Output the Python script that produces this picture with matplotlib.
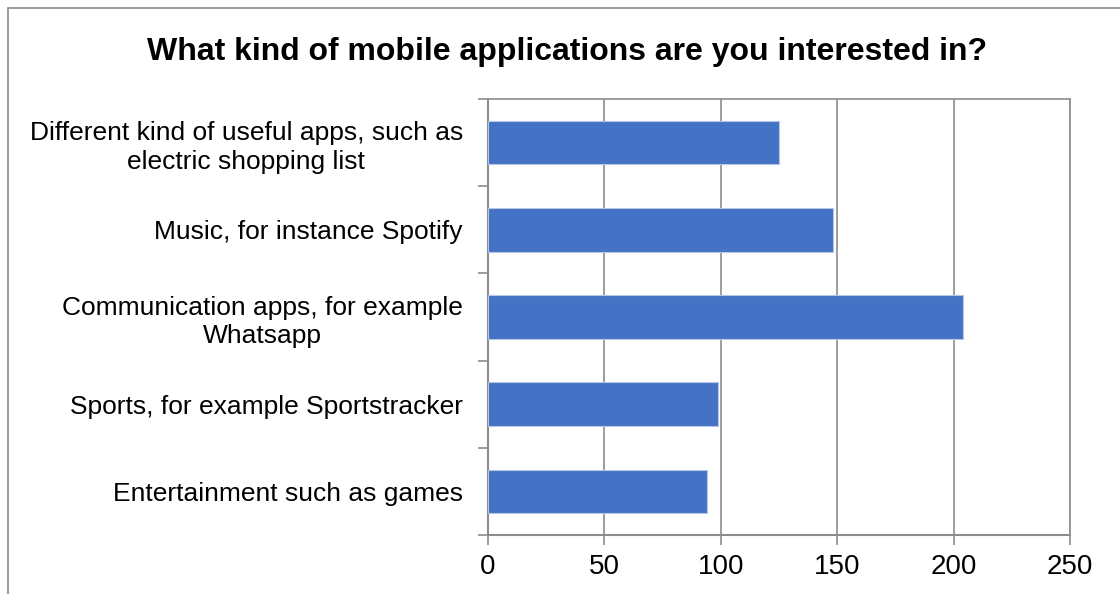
import matplotlib
matplotlib.use("Agg")
import matplotlib.pyplot as plt
from matplotlib.patches import Rectangle

categories = [
    "Entertainment such as games",
    "Sports, for example Sportstracker",
    "Communication apps, for example\nWhatsapp",
    "Music, for instance Spotify",
    "Different kind of useful apps, such as\nelectric shopping list",
]
values = [94, 99, 204, 148, 125]
xticks = [0, 50, 100, 150, 200, 250]
title = "What kind of mobile applications are you interested in?"

W, H = 1120, 594
fig = plt.figure(figsize=(W / 100, H / 100), dpi=100)
plt.rcParams['font.family'] = ['Liberation Sans', 'DejaVu Sans']

x0, x1, y0, y1 = 488, 1070, 99, 535
ax = fig.add_axes([x0 / W, 1 - y1 / H, (x1 - x0) / W, (y1 - y0) / H])

pos = list(range(len(categories)))
ax.barh(pos, values, height=0.5, color="#4472C4", edgecolor="#B4C7E7", linewidth=0.8, zorder=3)
ax.set_xlim(0, 250)
ax.set_ylim(-0.5, len(categories) - 0.5)
ax.set_xticks(xticks)
ax.set_xticklabels([str(t) for t in xticks], fontsize=20)
ax.grid(axis="x", color="#8C8C8C", linewidth=1.2, zorder=0)

ax.set_yticks([p - 0.5 for p in range(len(categories) + 1)])
ax.set_yticklabels([])
ax.set_yticks(pos, minor=True)
ax.set_yticklabels(categories, minor=True, fontsize=19, ma="center", linespacing=1.25)
ax.tick_params(axis="y", which="minor", length=0, pad=18)
ax.tick_params(axis="y", which="major", length=7, color="#8C8C8C", width=1.2)
ax.tick_params(axis="x", length=7, color="#8C8C8C", width=1.2, pad=7)

for s in ax.spines.values():
    s.set_color("#8C8C8C")
    s.set_linewidth(1.2)
ax.spines["left"].set_linewidth(1.5)
ax.spines["bottom"].set_linewidth(1.5)

fig.text(567 / W, 1 - 52 / H, title, ha="center", va="center", fontsize=23, fontweight="bold")

fig.patches.append(Rectangle((8 / W, -0.1), 1.2, 1 - 8 / H + 0.1, transform=fig.transFigure,
                             fill=False, edgecolor="#8C8C8C", linewidth=1.2))

fig.savefig("out.png", dpi=100)
